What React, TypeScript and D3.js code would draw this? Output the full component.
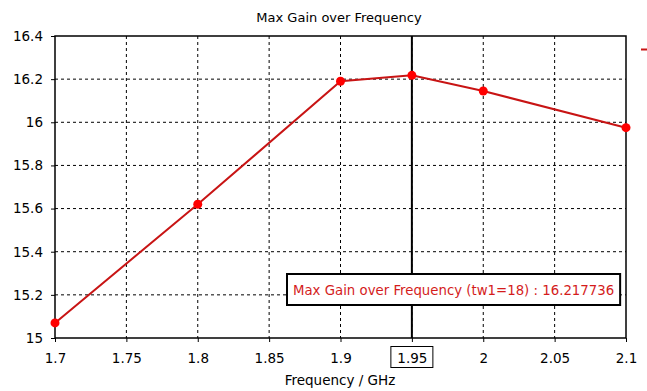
import { useEffect, useRef } from 'react';
import * as d3 from 'd3';

const frequencies = [1.7, 1.8, 1.9, 1.95, 2.0, 2.1];
const maxGain = [15.07, 15.62, 16.19, 16.217736, 16.145, 15.975];
const xTicks = [1.7, 1.75, 1.8, 1.85, 1.9, 1.95, 2.0, 2.05, 2.1];
const yTicks = [15, 15.2, 15.4, 15.6, 15.8, 16, 16.2, 16.4];
const cursorFreq = 1.95;
const cursorLabel = 'Max Gain over Frequency (tw1=18) : 16.217736';

export default function App() {
  const svgRef = useRef<SVGSVGElement>(null);

  useEffect(() => {
    if (!svgRef.current) return;
    const svg = d3.select(svgRef.current);
    svg.selectAll('*').remove();

    const width = 647;
    const height = 391;
    const margin = { top: 36, right: 21, bottom: 53, left: 55 };
    const w = width - margin.left - margin.right;
    const h = height - margin.top - margin.bottom;
    const font = 'Tahoma, "DejaVu Sans", sans-serif';

    svg.append('rect').attr('width', width).attr('height', height).attr('fill', '#fff');

    const x = d3.scaleLinear().domain([1.7, 2.1]).range([0, w]);
    const y = d3.scaleLinear().domain([15, 16.4]).range([h, 0]);

    const g = svg.append('g').attr('transform', `translate(${margin.left},${margin.top})`);

    // grid
    g.append('g')
      .selectAll('line')
      .data(xTicks.slice(1, -1))
      .enter()
      .append('line')
      .attr('x1', (d) => x(d))
      .attr('x2', (d) => x(d))
      .attr('y1', 0)
      .attr('y2', h)
      .attr('stroke', '#000')
      .attr('stroke-dasharray', '3,3');

    g.append('g')
      .selectAll('line')
      .data(yTicks.slice(1, -1))
      .enter()
      .append('line')
      .attr('x1', 0)
      .attr('x2', w)
      .attr('y1', (d) => y(d))
      .attr('y2', (d) => y(d))
      .attr('stroke', '#000')
      .attr('stroke-dasharray', '3,3');

    // axes
    const xAxis = g
      .append('g')
      .attr('transform', `translate(0,${h})`)
      .call(d3.axisBottom(x).tickValues(xTicks).tickSize(4).tickPadding(11).tickFormat((d) => `${+d}`));
    const yAxis = g
      .append('g')
      .call(d3.axisLeft(y).tickValues(yTicks).tickSize(4).tickPadding(8).tickFormat((d) => `${+(+d).toFixed(1)}`));

    [xAxis, yAxis].forEach((a) => {
      a.select('.domain').remove();
      a.selectAll('.tick line').attr('stroke', '#000');
      a.selectAll('text').attr('fill', '#000').style('font-family', font).style('font-size', '13.5px');
    });

    g.append('rect')
      .attr('width', w)
      .attr('height', h)
      .attr('fill', 'none')
      .attr('stroke', '#000')
      .attr('stroke-width', 1.5);

    // cursor
    g.append('line')
      .attr('x1', x(cursorFreq))
      .attr('x2', x(cursorFreq))
      .attr('y1', 0)
      .attr('y2', h)
      .attr('stroke', '#000')
      .attr('stroke-width', 2);

    // series
    const pts = frequencies.map((f, i) => [f, maxGain[i]] as [number, number]);
    g.append('path')
      .datum(pts)
      .attr('fill', 'none')
      .attr('stroke', '#c81414')
      .attr('stroke-width', 2)
      .attr('d', d3.line<[number, number]>().x((d) => x(d[0])).y((d) => y(d[1])));

    g.selectAll('.pt')
      .data(pts)
      .enter()
      .append('circle')
      .attr('cx', (d) => x(d[0]))
      .attr('cy', (d) => y(d[1]))
      .attr('r', 4.5)
      .attr('fill', '#f00');

    // cursor label box
    const boxX = 287 - margin.left;
    const boxY = 274 - margin.top;
    const box = g
      .append('rect')
      .attr('x', boxX)
      .attr('y', boxY)
      .attr('height', 31)
      .attr('fill', '#fff')
      .attr('stroke', '#000')
      .attr('stroke-width', 2);
    const label = g
      .append('text')
      .attr('x', boxX + 6)
      .attr('y', boxY + 21)
      .attr('fill', '#d41c1c')
      .style('font-family', font)
      .style('font-size', '13.3px')
      .text(cursorLabel);
    const tw = (label.node() as SVGTextElement).getComputedTextLength();
    box.attr('width', tw + 12);

    // cursor value box on x axis
    const cx = x(cursorFreq);
    g.append('rect')
      .attr('x', cx - 21)
      .attr('y', h + 8.5)
      .attr('width', 42)
      .attr('height', 21)
      .attr('fill', 'none')
      .attr('stroke', '#000');

    // title and axis label
    svg.append('text')
      .attr('x', 339)
      .attr('y', 22)
      .attr('text-anchor', 'middle')
      .style('font-family', font)
      .style('font-size', '13px')
      .text('Max Gain over Frequency');

    svg.append('text')
      .attr('x', 340)
      .attr('y', 385)
      .attr('text-anchor', 'middle')
      .style('font-family', font)
      .style('font-size', '13.5px')
      .text('Frequency / GHz');

    // clipped legend mark at right edge
    svg.append('line')
      .attr('x1', 641)
      .attr('x2', 647)
      .attr('y1', 49.5)
      .attr('y2', 49.5)
      .attr('stroke', '#c81414')
      .attr('stroke-width', 2);
  }, []);

  return (
    <svg
      ref={svgRef}
      width={647}
      height={391}
      style={{ position: 'absolute', left: 0, top: 0, display: 'block' }}
    ></svg>
  );
}
